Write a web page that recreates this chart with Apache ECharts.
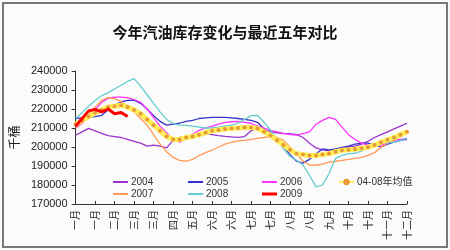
<!DOCTYPE html>
<html><head><meta charset="utf-8">
<script src="https://cdn.jsdelivr.net/npm/echarts@6/dist/echarts.min.js"></script>
<style>html,body{margin:0;padding:0;background:#fbfbfb}#c{width:450px;height:250px}</style>
</head><body><div id="c"></div>
<script>
const title = '今年汽油库存变化与最近五年对比';
const yName = '千桶';
const weeks = ['1','2','3','4','5','6','7','8','9','10','11','12','13','14','15','16','17','18','19','20','21','22','23','24','25','26','27','28','29','30','31','32','33','34','35','36','37','38','39','40','41','42','43','44','45','46','47','48','49','50','51','52'];
const tickLabels = ['一月','一月','二月','三月','三月','四月','五月','六月','六月','七月','七月','八月','八月','九月','十月','十月','十一月','十二月'];
const s2004 = [206200,208000,209800,208500,207200,206000,205500,205000,204000,203000,202000,200500,201000,200500,199500,203500,205000,205600,206000,207000,207000,206500,206000,205600,205300,205100,205500,208500,209800,209000,208000,207500,207000,207000,206500,205000,202000,199500,198500,198000,198500,199500,200000,200500,201500,203000,205000,206500,208000,209500,211000,212500];
const s2005 = [215000,215300,215600,216000,216700,219500,222000,223700,224500,224600,223000,220000,216500,213500,211500,212000,212500,213500,214000,215000,215300,215600,215600,215600,215300,215000,214500,214000,213000,209500,206000,203000,200500,196000,192500,191500,193500,196500,199000,198500,199000,199800,200500,201500,202000,202000,201000,200000,201500,202500,203500,204000];
const s2006 = [210000,212500,216000,219500,223500,225700,226300,226300,226000,225000,223500,220000,215500,211000,207500,204000,202500,204500,206500,208800,210000,211000,212000,213000,213300,213500,213000,212500,211000,210000,208800,208000,207200,206500,206200,207000,208000,212000,214000,215600,214500,210500,206500,204000,202000,201000,201000,201000,202000,203500,204000,204500];
const s2007 = [210000,213000,217000,221000,224500,226000,225500,224000,221500,218500,215000,211500,206500,201500,197500,194500,193000,192500,193500,195500,197000,198300,200000,201500,202500,203200,203500,204000,204500,205000,205600,205000,203500,200000,196500,192500,190500,190400,191000,192000,192500,193000,193500,194000,194500,195600,197000,199900,202000,203500,205500,207200];
const s2008 = [215000,218000,221500,224500,227000,228500,230500,232500,234500,236000,232000,227500,223000,218500,214500,212500,211500,211400,211000,210500,210000,210000,210500,211000,211500,212500,214500,216500,216600,213000,208800,204000,199000,195000,193000,190500,185000,179000,180000,186000,194000,195600,196500,196700,198000,199300,200500,202000,202300,202500,203500,204500];
const s2009 = [211000,215000,219000,219800,218500,220000,217500,218200,216000];
const sAvg = [212000,214000,216000,218000,219500,221000,221500,222000,221000,219500,217500,214500,211500,208500,205500,204000,204000,205000,205500,206500,207500,208500,209000,209500,209800,210000,210300,210300,209800,208000,206000,203500,201000,198500,196500,196000,195500,195500,196000,196500,197500,198300,198500,198800,199300,199900,201000,202500,203800,205000,206500,208000];

const chart = echarts.init(document.getElementById('c'), null, {renderer:'canvas'});
const lineSeries = (name, data, color, width) => ({
  name, type:'line', data, symbol:'none', smooth:false, z: 2,
  lineStyle:{color, width}, itemStyle:{color}
});
const legendPos = [
  ['2004',108,172,2],['2005',183,172,2],['2006',257,172,2],['04-08年均值',333,172,0],
  ['2007',108,184,2],['2008',183,184,2],['2009',257,184,3]
];
chart.setOption({
  backgroundColor:'#fbfbfb',
  animation:false,
  title:{text:title, left:'center', top:20, textStyle:{fontSize:15, fontWeight:'bold', color:'#111', fontFamily:'Noto Sans CJK SC'}},
  graphic:[{type:'rect', shape:{x:3,y:3,width:444,height:244}, style:{fill:'none', stroke:'#777', lineWidth:2}, z:-1}],
  legend: legendPos.map(p=>{
    const l = {data:[p[0]], left:p[1], top:p[2], itemWidth:15, itemGap:2,
      textStyle:{fontSize:10, color:'#333', fontFamily:'Liberation Sans, Noto Sans CJK SC', padding:[0,0,0,-2]}};
    if (p[3]) { l.icon = 'rect'; l.itemHeight = p[3]; } else { l.itemHeight = 8; }
    return l;
  }),
  grid:{left:70, right:43, top:71, bottom:46},
  xAxis:{
    type:'category', data:weeks, boundaryGap:false,
    axisLine:{lineStyle:{color:'#333'}},
    axisTick:{interval:2, inside:true, length:3, lineStyle:{color:'#333'}},
    axisLabel:{interval:2, rotate:90, fontSize:10, color:'#222', margin:6, fontFamily:'Noto Sans CJK SC',
      formatter:(v,i)=>tickLabels[Math.round(i/3)] || ''},
    splitLine:{show:false}
  },
  yAxis:{
    type:'value', min:170000, max:240000, interval:10000,
    name:yName, nameLocation:'middle', nameRotate:90, nameGap:52,
    nameTextStyle:{fontSize:12, color:'#222', fontFamily:'Noto Sans CJK SC'},
    axisLine:{show:true, lineStyle:{color:'#333'}},
    axisTick:{show:true, length:4, lineStyle:{color:'#333'}},
    axisLabel:{fontSize:11, color:'#222', margin:8, fontFamily:'Liberation Sans', formatter:v=>String(v)},
    splitLine:{show:false}
  },
  series:[
    lineSeries('2004', s2004, '#9933CC', 1.3),
    lineSeries('2005', s2005, '#3333CC', 1.3),
    lineSeries('2006', s2006, '#FF33FF', 1.3),
    lineSeries('2007', s2007, '#FF9955', 1.3),
    lineSeries('2008', s2008, '#66CCCC', 1.3),
    {name:'04-08年均值', type:'line', data:sAvg, symbol:'circle', symbolSize:4, showSymbol:true, z:3,
      lineStyle:{color:'#FFEE55', width:5}, itemStyle:{color:'#E8993A', borderWidth:0}},
    {name:'2009', type:'line', data:s2009, symbol:'none', z:4, lineStyle:{color:'#FF0000', width:3}, itemStyle:{color:'#FF0000'}}
  ]
});
</script></body></html>
